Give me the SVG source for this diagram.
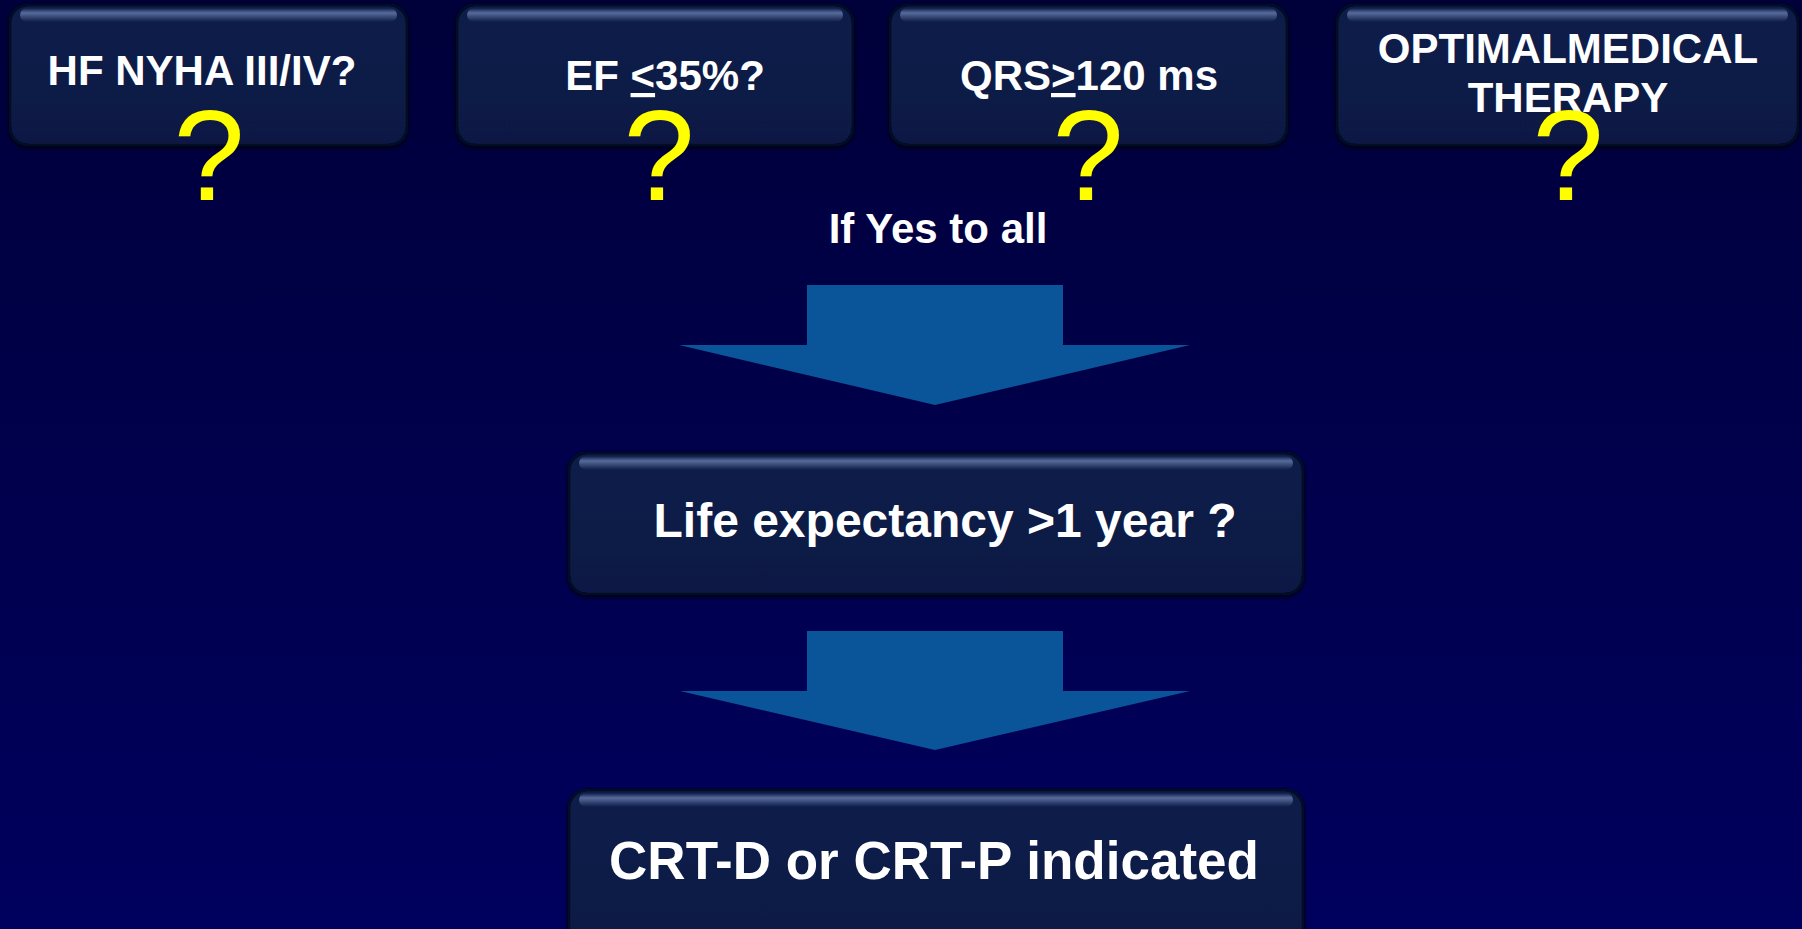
<svg xmlns="http://www.w3.org/2000/svg" width="1802" height="929" viewBox="0 0 1802 929">
<defs>
<linearGradient id="bg" x1="0" y1="0" x2="0" y2="1">
<stop offset="0" stop-color="#00003a"/>
<stop offset="1" stop-color="#00005e"/>
</linearGradient>
<linearGradient id="boxfill" x1="0" y1="0" x2="0" y2="1">
<stop offset="0" stop-color="#0b1c4a"/>
<stop offset="1" stop-color="#0a1944"/>
</linearGradient>
<linearGradient id="hl" x1="0" y1="0" x2="0" y2="1">
<stop offset="0" stop-color="#6479a8" stop-opacity="0"/>
<stop offset="0.35" stop-color="#6479a8" stop-opacity="0.85"/>
<stop offset="1" stop-color="#6479a8" stop-opacity="0"/>
</linearGradient>
<filter id="sh" x="-5%" y="-10%" width="110%" height="125%">
<feGaussianBlur in="SourceAlpha" stdDeviation="2"/>
<feOffset dx="0" dy="2"/>
<feComponentTransfer><feFuncA type="linear" slope="0.8"/></feComponentTransfer>
<feMerge><feMergeNode/><feMergeNode in="SourceGraphic"/></feMerge>
</filter>
</defs>
<style>
.box{fill:url(#boxfill);stroke:#050c26;stroke-width:3;filter:url(#sh)}
.hl{fill:url(#hl)}
.t{font-family:"Liberation Sans",Arial,sans-serif;font-weight:bold;fill:#ffffff;text-anchor:middle}
.q{font-family:"Liberation Sans",Arial,sans-serif;fill:#ffff00;font-size:128px;text-anchor:middle}
.arrow{fill:#0a5599}
</style>
<rect x="0" y="0" width="1802" height="929" fill="url(#bg)"/>

<g id="connectors">
<polygon class="arrow" points="807,285 1063,285 1063,345 1190,345 935,405 679,345 807,345"/>
<polygon class="arrow" points="807,631 1063,631 1063,691 1190,691 935,750 680,691 807,691"/>
<text class="t" x="938" y="243" font-size="42">If Yes to all</text>
</g>

<g id="node-hf">
<rect class="box" x="10" y="5" width="397" height="140" rx="18"/>
<rect class="hl" x="20" y="8" width="377" height="14" rx="7"/>
<text class="t" x="202" y="85" font-size="42">HF NYHA III/IV?</text>
<text class="q" x="209" y="200">?</text>
</g>

<g id="node-ef">
<rect class="box" x="457" y="5" width="396" height="140" rx="18"/>
<rect class="hl" x="467" y="8" width="376" height="14" rx="7"/>
<text class="t" x="665" y="90" font-size="42">EF <tspan text-decoration="underline">&lt;</tspan>35%?</text>
<text class="q" x="659" y="200">?</text>
</g>

<g id="node-qrs">
<rect class="box" x="890" y="5" width="397" height="140" rx="18"/>
<rect class="hl" x="900" y="8" width="377" height="14" rx="7"/>
<text class="t" x="1089" y="90" font-size="42">QRS<tspan text-decoration="underline">&gt;</tspan>120 ms</text>
<text class="q" x="1088" y="200">?</text>
</g>

<g id="node-omt">
<rect class="box" x="1337" y="5" width="461" height="140" rx="18"/>
<rect class="hl" x="1347" y="8" width="441" height="14" rx="7"/>
<text class="t" x="1568" y="63" font-size="42">OPTIMALMEDICAL</text>
<text class="t" x="1568" y="112" font-size="42">THERAPY</text>
<text class="q" x="1568" y="200">?</text>
</g>

<g id="node-life">
<rect class="box" x="569" y="453" width="734" height="141" rx="18"/>
<rect class="hl" x="579" y="456" width="714" height="14" rx="7"/>
<text class="t" x="945" y="537" font-size="48">Life expectancy &gt;1 year ?</text>
</g>

<g id="node-crt">
<rect class="box" x="569" y="790" width="734" height="170" rx="18"/>
<rect class="hl" x="579" y="793" width="714" height="14" rx="7"/>
<text class="t" x="934" y="879" font-size="53">CRT-D or CRT-P indicated</text>
</g>
</svg>
